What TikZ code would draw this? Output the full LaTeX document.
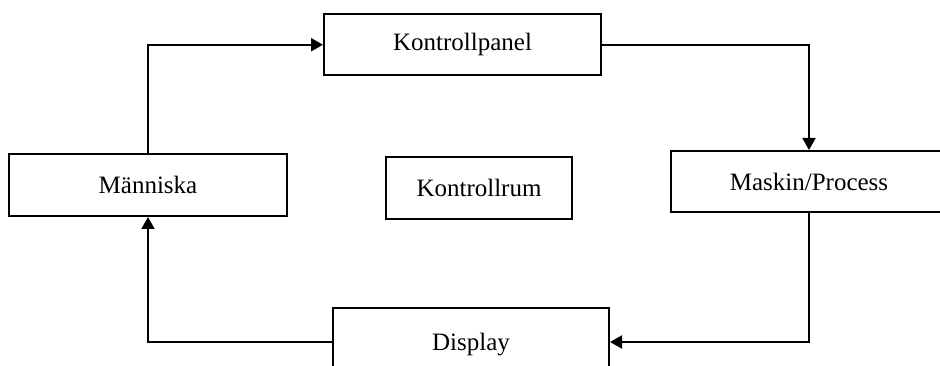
\documentclass[tikz,border=0pt]{standalone}
\usepackage{fontspec}
\setmainfont{Liberation Serif}
\usetikzlibrary{arrows.meta}
\begin{document}
\begin{tikzpicture}[x=1pt,y=-1pt,
  box/.style={draw=black,line width=2pt,rectangle,inner sep=0pt,font=\fontsize{25}{29}\selectfont},
  conn/.style={draw=black,line width=2pt,-{Triangle[length=12pt,width=13pt]}}]
\useasboundingbox (0,0) rectangle (940,366);
\clip (0,0) rectangle (940,366);
\fill[white] (0,0) rectangle (940,366);
\node[box,minimum width=277pt,minimum height=61.5pt] (kp) at (462.5,44.75) {Kontrollpanel};
\node[box,minimum width=278pt,minimum height=62pt] (men) at (148,185) {Människa};
\node[box,minimum width=186pt,minimum height=62pt] (kr) at (479,188) {Kontrollrum};
\node[box,minimum width=276pt,minimum height=61pt] (mp) at (809,181.5) {Maskin/Process};
\node[box,minimum width=276pt,minimum height=68pt,text depth=0pt] (disp) at (471,342) {Display};
\draw[conn] (men.north) |- (kp.west);
\draw[conn] (kp.east) -| (mp.north);
\draw[conn] (mp.south) |- (disp.east);
\draw[conn] (disp.west) -| (men.south);
\end{tikzpicture}
\end{document}
